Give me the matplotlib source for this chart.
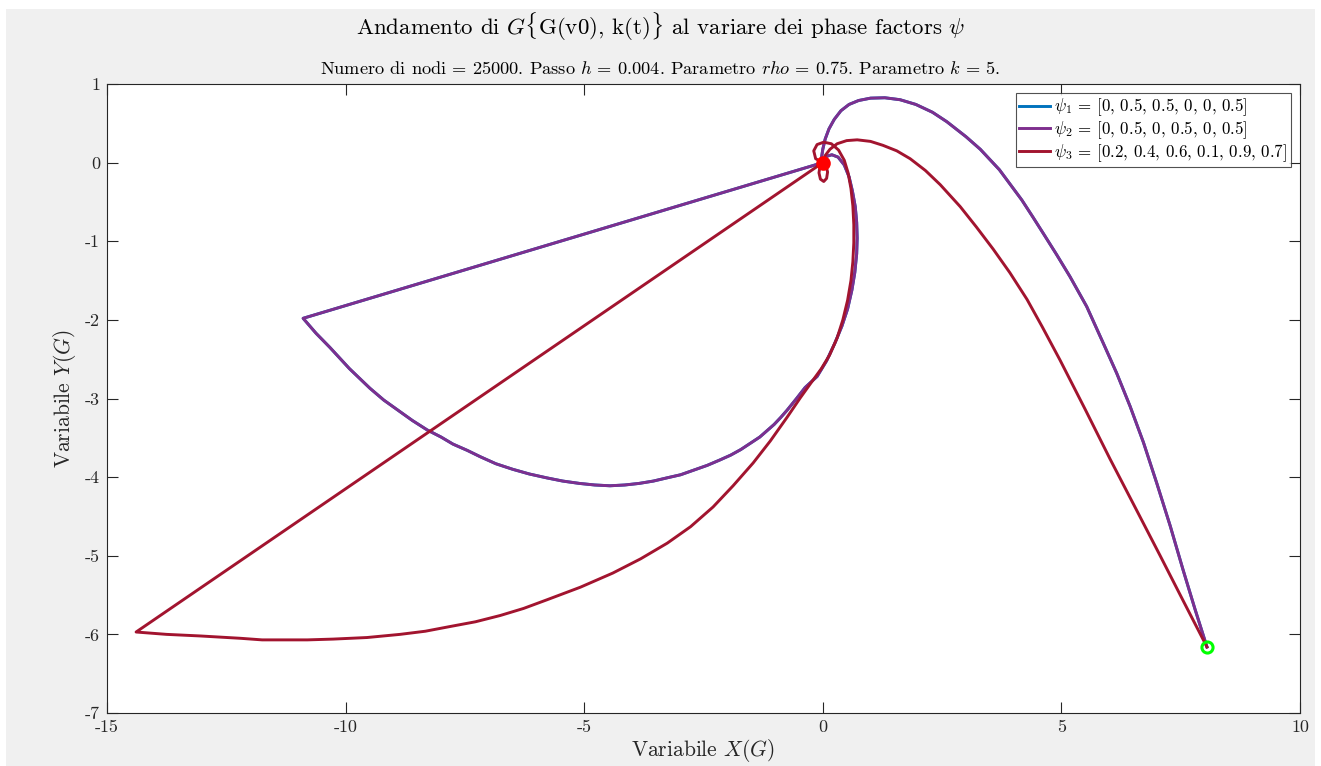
import matplotlib
matplotlib.use("Agg")
import matplotlib.pyplot as plt
from matplotlib.patches import Rectangle
import numpy as np

plt.rcParams["font.family"] = "cmr10"
plt.rcParams["mathtext.fontset"] = "cm"
plt.rcParams["axes.unicode_minus"] = False

# trajectories of G for the three phase-factor vectors
psi2_x = [8.05, 7.80, 7.55, 7.28, 7.00, 6.72, 6.44, 6.16, 5.88, 5.53, 5.18, 4.90, 4.62,
          4.40, 4.17, 3.70, 3.30, 3.00, 2.60, 2.30, 1.95, 1.62, 1.30, 1.00, 0.75, 0.55,
          0.38, 0.24, 0.13, 0.05, 0.00, -0.03,
          0.00, 0.08, 0.19, 0.32, 0.45, 0.55, 0.62, 0.68, 0.71, 0.72, 0.71, 0.67, 0.61,
          0.52, 0.40, 0.25, 0.08, -0.12, -0.37, -0.55, -0.75, -0.88, -1.02, -1.17,
          -1.32, -1.52, -1.72, -1.93, -2.15, -2.42, -2.70, -2.98, -3.27, -3.55, -3.85,
          -4.15, -4.46, -4.78, -5.10, -5.45, -5.78, -6.15, -6.50, -6.85, -7.18, -7.45,
          -7.75, -8.00, -8.29, -8.60, -8.90, -9.20, -9.49, -9.92, -10.33, -10.62,
          -10.89, 0.00]
psi2_y = [-6.16, -5.68, -5.18, -4.62, -4.08, -3.56, -3.10, -2.68, -2.30, -1.83, -1.45,
          -1.17, -0.90, -0.69, -0.475, -0.09, 0.17, 0.33, 0.52, 0.64, 0.74, 0.80, 0.825,
          0.82, 0.79, 0.74, 0.66, 0.55, 0.43, 0.30, 0.17, 0.05,
          0.00, 0.08, 0.10, 0.07, -0.03, -0.18, -0.36, -0.56, -0.76, -0.96, -1.16,
          -1.40, -1.62, -1.86, -2.08, -2.30, -2.52, -2.72, -2.86, -3.00, -3.15, -3.24,
          -3.33, -3.41, -3.49, -3.57, -3.65, -3.72, -3.78, -3.85, -3.91, -3.97, -4.01,
          -4.05, -4.08, -4.10, -4.11, -4.10, -4.08, -4.05, -4.01, -3.96, -3.90, -3.83,
          -3.74, -3.66, -3.58, -3.49, -3.40, -3.28, -3.15, -3.02, -2.87, -2.62, -2.35,
          -2.17, -1.98, 0.00]

psi1_x = list(psi2_x)
psi1_y = list(psi2_y)

psi3_x = [8.05, 7.55, 7.07, 6.55, 6.02, 5.50, 4.97, 4.60, 4.28, 3.92, 3.57, 3.22, 2.88,
          2.46, 2.15, 1.83, 1.55, 1.26, 1.00, 0.72, 0.50, 0.30, 0.15, 0.05, 0.00,
          0.07, 0.10, 0.08, 0.02, -0.05, -0.08, -0.06, 0.00,
          -0.15, -0.19, -0.12, 0.02, 0.18, 0.33, 0.45, 0.53, 0.59, 0.63, 0.65, 0.65,
          0.63, 0.59, 0.52, 0.42, 0.30, 0.14, -0.03, -0.21, -0.47, -0.75, -1.10, -1.46,
          -1.88, -2.30, -2.77, -3.26, -3.82, -4.40, -5.08, -5.78, -6.27, -6.76, -7.28,
          -7.81, -8.33, -8.86, -9.55, -10.26, -10.80, -11.31, -11.75, -12.20, -13.05,
          -13.75, -14.39, 0.00]
psi3_y = [-6.16, -5.57, -5.00, -4.39, -3.77, -3.14, -2.51, -2.09, -1.74, -1.40, -1.10,
          -0.82, -0.56, -0.28, -0.10, 0.05, 0.15, 0.22, 0.27, 0.29, 0.28, 0.24, 0.17,
          0.09, 0.00,
          -0.04, -0.12, -0.20, -0.24, -0.21, -0.13, -0.05, 0.00,
          0.05, 0.15, 0.23, 0.26, 0.24, 0.16, 0.03, -0.13, -0.33, -0.55, -0.79, -1.02,
          -1.26, -1.50, -1.75, -2.00, -2.23, -2.45, -2.62, -2.77, -2.99, -3.24, -3.54,
          -3.82, -4.11, -4.38, -4.63, -4.84, -5.04, -5.22, -5.40, -5.56, -5.67, -5.76,
          -5.84, -5.90, -5.96, -6.00, -6.04, -6.06, -6.07, -6.07, -6.07, -6.05, -6.02,
          -6.00, -5.97, 0.00]

start_pt = (8.05, -6.16)
end_pt = (0.0, 0.0)

labels = [r"$\psi_1$ = [0, 0.5, 0.5, 0, 0, 0.5]",
          r"$\psi_2$ = [0, 0.5, 0, 0.5, 0, 0.5]",
          r"$\psi_3$ = [0.2, 0.4, 0.6, 0.1, 0.9, 0.7]"]
colors = ["#0072BD", "#7E2F8E", "#A2142F"]

W, H = 1321, 766
fig = plt.figure(figsize=(W / 100, H / 100), dpi=100, facecolor="white")
fig.patches.append(Rectangle((6 / W, 0), 1 - 12 / W, 1 - 9 / H, transform=fig.transFigure,
                             facecolor="#f0f0f0", edgecolor="none", zorder=-10))

ax = fig.add_axes([107 / W, 1 - 713 / H, 1193 / W, 629 / H])
for xs, ys, c, lab in zip([psi1_x, psi2_x, psi3_x], [psi1_y, psi2_y, psi3_y], colors, labels):
    ax.plot(xs, ys, color=c, lw=2.1, label=lab, solid_joinstyle="round")

ax.plot(*end_pt, "o", ms=9, mfc="#ff0000", mec="#ff0000", mew=1.5, zorder=5)
ax.plot(*start_pt, "o", ms=8, mfc="none", mec="#00ff00", mew=2.2, zorder=5)

ax.set_xlim(-15, 10)
ax.set_ylim(-7, 1)
xt = np.arange(-15, 11, 5)
yt = np.arange(-7, 2, 1)
ax.set_xticks(xt)
ax.set_xticklabels([str(v) for v in xt])
ax.set_yticks(yt)
ax.set_yticklabels([str(v) for v in yt])
ax.tick_params(direction="in", length=8, width=0.8, top=True, right=True,
               labelsize=13, colors="#262626", pad=5)
for s in ax.spines.values():
    s.set_color("#262626")
    s.set_linewidth(0.8)

ax.set_xlabel("Variabile $X(G)$", fontsize=15.5, color="#262626", labelpad=1)
ax.set_ylabel("Variabile $Y(G)$", fontsize=15.5, color="#262626", labelpad=5)
fig.text(0.5, 1 - 27 / H, r"Andamento di $G\{$G(v0), k(t)$\}$ al variare dei phase factors $\psi$",
         ha="center", va="center", fontsize=16.5)
fig.text(0.5, 1 - 68 / H, r"Numero di nodi = 25000. Passo $h$ = 0.004. Parametro $rho$ = 0.75. Parametro $k$ = 5.",
         ha="center", va="center", fontsize=13.2)

leg = ax.legend(loc="upper right", fontsize=12.2, frameon=True, fancybox=False,
                borderpad=0.2, labelspacing=0.05, handlelength=1.8, handletextpad=0.25,
                borderaxespad=0.55)
leg.get_frame().set_edgecolor("#262626")
leg.get_frame().set_linewidth(0.8)

fig.savefig("out.png", dpi=100, facecolor=fig.get_facecolor())
